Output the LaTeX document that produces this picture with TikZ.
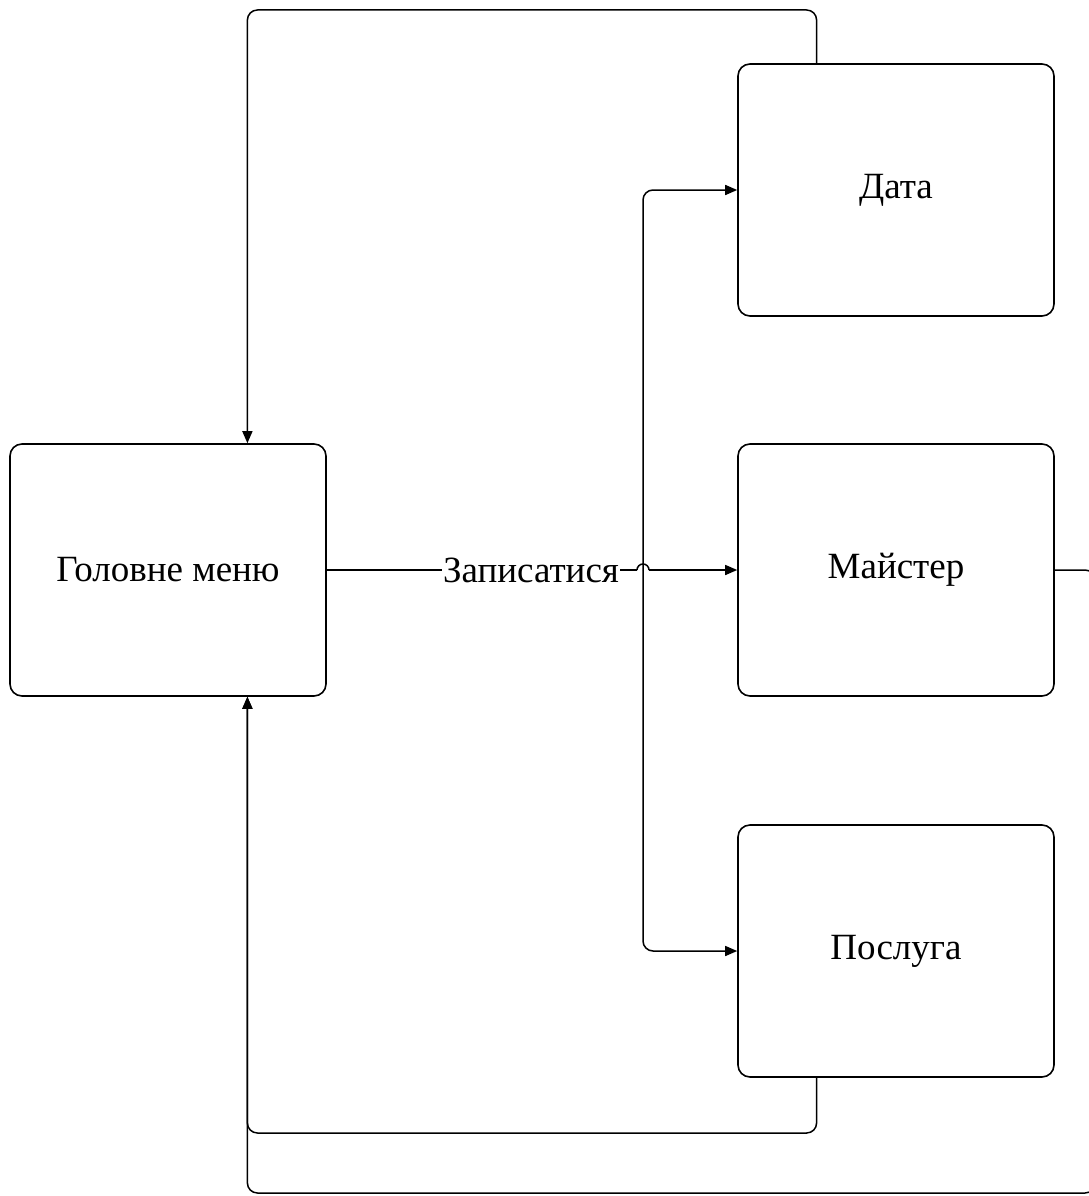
\documentclass[tikz,border=0pt]{standalone}
\usepackage{fontspec}
\setmainfont{Liberation Serif}
\usetikzlibrary{arrows.meta,calc}
\begin{document}
\begin{tikzpicture}[x=1pt,y=-1pt,
  box/.style={draw, line width=1.6pt, rounded corners=12pt, minimum width=316pt, minimum height=252pt, inner sep=0pt, font=\fontsize{37}{44}\selectfont},
  conn/.style={line width=1.5pt, rounded corners=10pt},
  arr/.style={conn, -{Triangle[length=12pt,width=10pt]}}]
\useasboundingbox (0,0) rectangle (1088,1196);
\fill[white] (0,0) rectangle (1088,1196);
\node[box] (main) at (168,570) {Головне меню};
\node[box] (date) at (896,190) {Дата};
\node[box] (master) at (896,570) {Майстер};
\node[box] (service) at (896,951) {Послуга};
\coordinate (mainN) at ($(main.north west)!0.75!(main.north east)$);
\coordinate (mainS) at ($(main.south west)!0.75!(main.south east)$);
\coordinate (dateN) at ($(date.north west)!0.25!(date.north east)$);
\coordinate (servS) at ($(service.south west)!0.25!(service.south east)$);
\coordinate (jl) at (637,570);
\coordinate (jr) at (649,570);
\coordinate (br) at (643,570);
% branches to Дата and Послуга
\draw[arr] (br) |- (date.west);
\draw[arr] (br) |- (service.west);
% main to Майстер with label and jump
\draw[conn] (main.east) -- (jl);
\draw[line width=1.5pt] (jl) arc[start angle=180, end angle=0, radius=6pt];
\draw[arr] (jr) -- (master.west);
\node[fill=white, inner sep=1pt, font=\fontsize{37}{44}\selectfont] (lbl) at (531,570) {Записатися};
% return loops
\draw[arr] (dateN) |- (520,10) -| (mainN);
\draw[arr] (servS) |- (520,1133) -| (mainS);
\draw[arr] (master.east) -- (1095,570) |- (520,1193) -| (mainS);
\end{tikzpicture}
\end{document}
